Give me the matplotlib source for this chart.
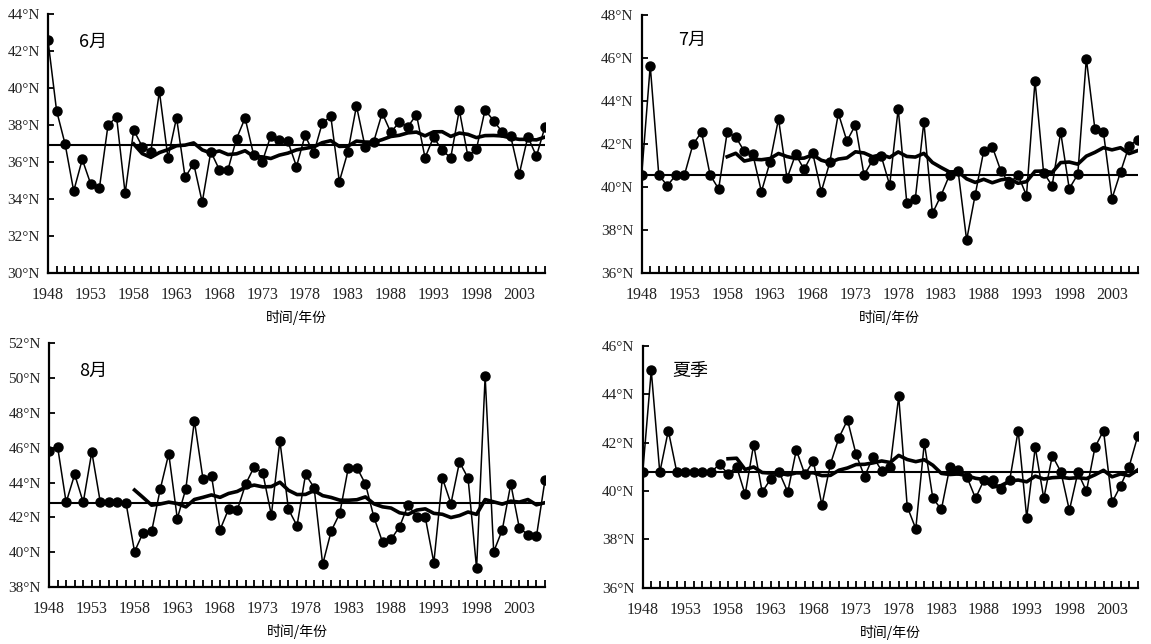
import numpy as np
import pandas as pd
import matplotlib
matplotlib.use('Agg')
import matplotlib.pyplot as plt

cjk = ['Noto Sans CJK SC', 'DejaVu Sans']
plt.rcParams['font.family'] = ['Liberation Serif', 'DejaVu Sans']

years = np.arange(1948, 2007)
year_labels = [str(y) if (y - 1948) % 5 == 0 and y < 2006 else '' for y in years]

# 副高北界位置 (°N)
jun = [42.57, 38.77, 36.95, 34.42, 36.13, 34.78, 34.58, 37.97, 38.44, 34.29,
       37.72, 36.82, 36.53, 39.81, 36.21, 38.39, 35.16, 35.90, 33.81, 36.55,
       35.57, 35.57, 37.25, 38.37, 36.37, 36.00, 37.40, 37.18, 37.10, 35.74,
       37.43, 36.45, 38.08, 38.47, 34.93, 36.55, 39.02, 36.82, 37.07, 38.64,
       37.60, 38.14, 37.90, 38.55, 36.22, 37.34, 36.62, 36.22, 38.80, 36.31,
       36.69, 38.80, 38.23, 37.61, 37.38, 35.34, 37.36, 36.30, 37.90]
jul = [40.55, 45.64, 40.55, 40.05, 40.55, 40.55, 41.98, 42.54, 40.55, 39.90,
       42.54, 42.32, 41.65, 41.51, 39.77, 41.14, 43.16, 40.39, 41.51, 40.81,
       41.57, 39.77, 41.14, 43.42, 42.13, 42.88, 40.55, 41.23, 41.45, 40.08,
       43.64, 39.26, 39.45, 43.02, 38.76, 39.59, 40.55, 40.75, 37.52, 39.62,
       41.67, 41.87, 40.74, 40.15, 40.56, 39.59, 44.94, 40.66, 40.05, 42.54,
       39.91, 40.58, 45.97, 42.69, 42.54, 39.45, 40.69, 41.91, 42.19]
aug = [45.83, 46.06, 42.86, 44.47, 42.86, 45.76, 42.86, 42.86, 42.86, 42.83,
       40.03, 41.12, 41.20, 43.61, 45.66, 41.93, 43.65, 47.56, 44.22, 44.38,
       41.29, 42.48, 42.40, 43.92, 44.91, 44.53, 42.14, 46.39, 42.46, 41.52,
       44.47, 43.71, 39.30, 41.22, 42.23, 44.86, 44.86, 43.92, 42.00, 40.58,
       40.74, 41.47, 42.73, 42.00, 42.00, 39.40, 44.26, 42.79, 45.18, 44.26,
       39.07, 50.10, 40.03, 41.27, 43.92, 41.39, 41.01, 40.91, 44.15]
summer = [40.77, 44.99, 40.77, 42.50, 40.77, 40.77, 40.77, 40.77, 40.77, 41.12,
          40.70, 41.01, 39.86, 41.92, 39.96, 40.50, 40.77, 39.96, 41.70, 40.69,
          41.24, 39.41, 41.12, 42.21, 42.94, 41.52, 40.60, 41.42, 40.84, 41.01,
          43.92, 39.35, 38.44, 41.99, 39.70, 39.24, 41.01, 40.86, 40.58, 39.70,
          40.46, 40.44, 40.08, 40.44, 42.50, 38.90, 41.81, 39.70, 41.46, 40.80,
          39.20, 40.77, 39.99, 41.81, 42.50, 39.53, 40.22, 41.01, 42.26]

# 多年平均
mean_levels = [36.9, 40.55, 42.83, 40.77]
titles = ['6月', '7月', '8月', '夏季']
ylims = [(30, 44), (36, 48), (38, 52), (36, 46)]

fig = plt.figure(figsize=(11.51, 6.44), dpi=100)
rects = [[0.0417, 0.5766, 0.4318, 0.4017],
         [0.5575, 0.5766, 0.4309, 0.4001],
         [0.0426, 0.0885, 0.4309, 0.3784],
         [0.5584, 0.0874, 0.4300, 0.3753]]
title_pos = [(0.062, 0.892), (0.073, 0.903), (0.060, 0.888), (0.059, 0.897)]

for i, vals in enumerate([jun, jul, aug, summer]):
    ax = fig.add_axes(rects[i])
    s = pd.Series(vals, index=years)
    ax.plot(years, s.values, '-', color='black', lw=1.1, zorder=3)
    ax.plot(years, s.values, 'o', color='black', ms=6.5, zorder=4)
    # 11年滑动平均
    ax.plot(years, s.rolling(11).mean().values, '-', color='black', lw=2.6, zorder=2)
    ax.axhline(mean_levels[i], color='black', lw=1.5, zorder=1)

    ax.set_xlim(1948, 2006)
    lo, hi = ylims[i]
    ax.set_ylim(lo, hi)
    yt = np.arange(lo, hi + 1, 2)
    ax.set_yticks(yt)
    ax.set_yticklabels(['%d°N' % v for v in yt], fontsize=11, color='#222222')
    ax.set_xticks(years)
    ax.set_xticklabels(year_labels, fontsize=11.5, color='#222222')
    ax.tick_params(axis='x', direction='in', length=5, width=1.3, pad=10)
    ax.tick_params(axis='y', direction='in', length=4, width=1.3, pad=6)
    for sp in ['top', 'right']:
        ax.spines[sp].set_visible(False)
    for sp in ['left', 'bottom']:
        ax.spines[sp].set_linewidth(1.6)
    ax.set_xlabel('时间/年份', family=cjk, fontsize=10, labelpad=5)
    ax.text(title_pos[i][0], title_pos[i][1], titles[i], transform=ax.transAxes,
            family=cjk, fontsize=13, va='center', ha='left')

fig.savefig('out.png', dpi=100)
